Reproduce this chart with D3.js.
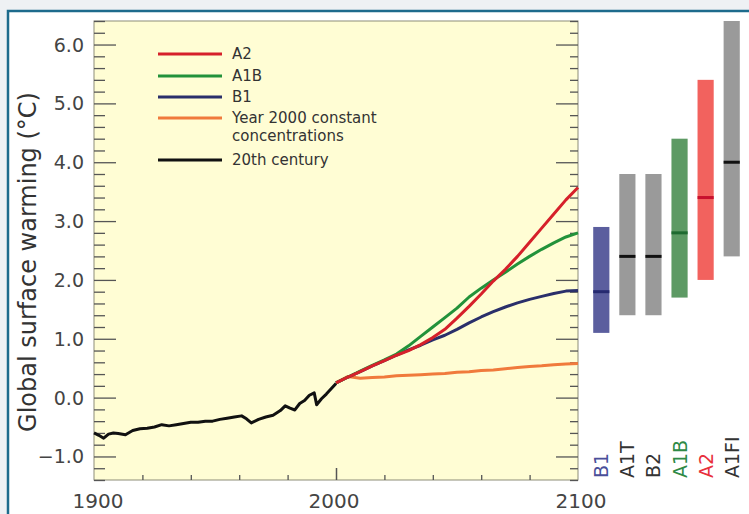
<!DOCTYPE html>
<html>
<head>
<meta charset="utf-8">
<script src="https://cdn.jsdelivr.net/npm/d3@7"></script>
<style>
  body { margin: 0; background: #eef1f4; }
  svg { display: block; }
  text { font-family: "DejaVu Sans", sans-serif; }
</style>
</head>
<body>
<svg id="chart"></svg>
<script>
// chart size
width = 749;
height = 514;

// 20th century observed series
const years20 = [1900, 1902, 1904, 1906, 1908, 1910, 1913, 1916, 1919, 1922, 1925, 1928, 1931, 1934, 1937,
  1940, 1943, 1946, 1949, 1952, 1955, 1958, 1961, 1963, 1965, 1968, 1971, 1974, 1977, 1979,
  1981, 1983, 1985, 1987, 1989, 1991, 1992, 1994, 1996, 1998, 2000];
const century20 = [-0.6, -0.64, -0.69, -0.62, -0.6, -0.61, -0.63, -0.56, -0.53, -0.52, -0.5, -0.46, -0.48, -0.46, -0.44,
  -0.42, -0.42, -0.4, -0.4, -0.37, -0.35, -0.33, -0.31, -0.36, -0.43, -0.37, -0.33, -0.3, -0.22, -0.14,
  -0.18, -0.21, -0.1, -0.05, 0.04, 0.08, -0.12, -0.02, 0.06, 0.15, 0.24];

// scenario projections
const yearsP = [2000, 2005, 2010, 2015, 2020, 2025, 2030, 2035, 2040, 2045, 2050,
  2055, 2060, 2065, 2070, 2075, 2080, 2085, 2090, 2095, 2100];
const a2 = [0.25, 0.35, 0.44, 0.54, 0.63, 0.72, 0.8, 0.9, 1.02, 1.16, 1.35,
  1.55, 1.76, 1.98, 2.18, 2.4, 2.64, 2.88, 3.12, 3.36, 3.57];
const a1b = [0.25, 0.35, 0.45, 0.55, 0.64, 0.74, 0.88, 1.04, 1.2, 1.36, 1.52,
  1.71, 1.86, 2.0, 2.13, 2.27, 2.4, 2.52, 2.63, 2.73, 2.8];
const b1 = [0.25, 0.35, 0.44, 0.54, 0.63, 0.72, 0.81, 0.89, 0.98, 1.06, 1.16,
  1.27, 1.37, 1.46, 1.54, 1.61, 1.67, 1.72, 1.77, 1.81, 1.82];
const constant2000 = [0.25, 0.36, 0.33, 0.34, 0.35, 0.37, 0.38, 0.39, 0.4, 0.41, 0.43,
  0.44, 0.46, 0.47, 0.49, 0.51, 0.53, 0.54, 0.56, 0.57, 0.58];

// likely ranges at 2100
const scenarios = ["B1", "A1T", "B2", "A1B", "A2", "A1FI"];
const best = [1.8, 2.4, 2.4, 2.8, 3.4, 4.0];
const low = [1.1, 1.4, 1.4, 1.7, 2.0, 2.4];
const high = [2.9, 3.8, 3.8, 4.4, 5.4, 6.4];

const yTicks = [-1, 0, 1, 2, 3, 4, 5, 6];
const xLabels = [1900, 2000, 2100];

const barColour = ["#5b5e9e", "#9a9a9a", "#9a9a9a", "#5d9a64", "#f2625e", "#9a9a9a"];
const markColour = ["#262a70", "#111", "#111", "#1e6a30", "#c8102e", "#111"];
const labelColour = ["#4a4f9a", "#333", "#333", "#2e8a46", "#e8303c", "#333"];

const svg = d3.select("#chart")
  .attr("width", width)
  .attr("height", height);

// outer frame
svg.append("rect")
  .attr("x", 8).attr("y", 11)
  .attr("width", width + 10).attr("height", height + 10)
  .attr("fill", "#fff")
  .attr("stroke", "#1d6b8c")
  .attr("stroke-width", 2.5);

const plot = { left: 94, right: 578, top: 21, bottom: 480 };

const x = d3.scaleLinear().domain([1900, 2100]).range([plot.left, plot.right]);
const y = d3.scaleLinear().domain([-1.4, 6.4]).range([plot.bottom, plot.top]);

// plot background
svg.append("rect")
  .attr("x", plot.left).attr("y", plot.top)
  .attr("width", plot.right - plot.left).attr("height", plot.bottom - plot.top)
  .attr("fill", "#fffdd4")
  .attr("stroke", "#8d8d78")
  .attr("stroke-width", 1);

// y axes, left and right, ticks pointing inwards
const minor = d3.range(-1.4, 6.41, 0.2).filter(v => Math.abs(v - Math.round(v)) > 0.01);
const leftMinor = d3.axisRight(y).tickValues(minor).tickSize(11).tickFormat("");
const leftMajor = d3.axisRight(y).tickValues(yTicks).tickSize(22).tickFormat("");
const rightMinor = d3.axisLeft(y).tickValues(minor).tickSize(8).tickFormat("");
const rightMajor = d3.axisLeft(y).tickValues(yTicks).tickSize(22).tickFormat("");

[[leftMinor, plot.left], [leftMajor, plot.left], [rightMinor, plot.right], [rightMajor, plot.right]]
  .forEach(([ax, pos]) => {
    const g = svg.append("g").attr("transform", `translate(${pos},0)`).call(ax);
    g.select(".domain").remove();
    g.selectAll("line").attr("stroke", "#555").attr("stroke-width", 1.3);
  });

// y tick labels
svg.append("g").selectAll("text")
  .data(yTicks)
  .enter()
  .append("text")
  .attr("x", 84)
  .attr("y", d => y(d) + 7)
  .attr("text-anchor", "end")
  .attr("font-size", 19)
  .attr("fill", "#444")
  .text(d => d.toFixed(1).replace("-", "\u2212"));

// x axis ticks (pointing up)
const xt = svg.append("g").attr("transform", `translate(0,${plot.bottom})`)
  .call(d3.axisTop(x).tickValues([1920, 1940, 1960, 1980, 2020, 2040, 2060, 2080]).tickSize(5).tickFormat(""));
xt.select(".domain").remove();
xt.selectAll("line").attr("stroke", "#555").attr("stroke-width", 1.3);
const xt2 = svg.append("g").attr("transform", `translate(0,${plot.bottom})`)
  .call(d3.axisTop(x).tickValues([2000]).tickSize(12).tickFormat(""));
xt2.select(".domain").remove();
xt2.selectAll("line").attr("stroke", "#555").attr("stroke-width", 1.5);

svg.append("g").selectAll("text")
  .data(xLabels)
  .enter()
  .append("text")
  .attr("x", (d, i) => x(d) + [4, -2, 3][i])
  .attr("y", 508)
  .attr("text-anchor", "middle")
  .attr("font-size", 20)
  .attr("fill", "#444")
  .text(d => d);

// y axis title
svg.append("text")
  .attr("transform", "translate(36,262) rotate(-90)")
  .attr("text-anchor", "middle")
  .attr("font-size", 24)
  .attr("fill", "#333")
  .text("Global surface warming (\u00b0C)");

// lines
const line = d3.line()
  .x(d => x(d[0]))
  .y(d => y(d[1]));

const series = [
  { name: "Year 2000 constant", years: yearsP, values: constant2000, colour: "#f07a3c" },
  { name: "B1", years: yearsP, values: b1, colour: "#2a2f6a" },
  { name: "A1B", years: yearsP, values: a1b, colour: "#22923a" },
  { name: "A2", years: yearsP, values: a2, colour: "#d6202a" },
  { name: "20th century", years: years20, values: century20, colour: "#111" }
];

svg.append("g")
  .selectAll("path")
  .data(series)
  .enter()
  .append("path")
  .attr("d", s => line(s.years.map((yr, i) => [yr, s.values[i]])))
  .attr("fill", "none")
  .attr("stroke", s => s.colour)
  .attr("stroke-width", 3)
  .attr("stroke-linejoin", "round");

// legend
const legendItems = [
  { label: ["A2"], colour: "#d6202a", y: 54 },
  { label: ["A1B"], colour: "#22923a", y: 76 },
  { label: ["B1"], colour: "#2a2f6a", y: 97 },
  { label: ["Year 2000 constant", "concentrations"], colour: "#f07a3c", y: 118 },
  { label: ["20th century"], colour: "#111", y: 160 }
];
const legend = svg.append("g");
legendItems.forEach(item => {
  legend.append("line")
    .attr("x1", 158).attr("x2", 222)
    .attr("y1", item.y).attr("y2", item.y)
    .attr("stroke", item.colour)
    .attr("stroke-width", 3);
  item.label.forEach((t, j) => {
    legend.append("text")
      .attr("x", 232)
      .attr("y", item.y + 5 + j * 18)
      .attr("font-size", 15)
      .attr("fill", "#333")
      .text(t);
  });
});

// range bars on the right
const band = d3.scaleBand().domain(scenarios).range([588, 745]).paddingInner(0.38).paddingOuter(0.2);

const bars = svg.append("g");
bars.selectAll("rect.range")
  .data(scenarios)
  .enter()
  .append("rect")
  .attr("class", "range")
  .attr("x", d => band(d))
  .attr("width", band.bandwidth())
  .attr("y", (d, i) => y(high[i]))
  .attr("height", (d, i) => y(low[i]) - y(high[i]))
  .attr("fill", (d, i) => barColour[i]);

bars.selectAll("rect.best")
  .data(scenarios)
  .enter()
  .append("rect")
  .attr("class", "best")
  .attr("x", d => band(d))
  .attr("width", band.bandwidth())
  .attr("y", (d, i) => y(best[i]) - 1.5)
  .attr("height", 3)
  .attr("fill", (d, i) => markColour[i]);

bars.selectAll("text")
  .data(scenarios)
  .enter()
  .append("text")
  .attr("transform", d => `translate(${band(d) + band.bandwidth() / 2 + 7},478) rotate(-90)`)
  .attr("font-size", 19)
  .attr("fill", (d, i) => labelColour[i])
  .text(d => d);
</script>
</body>
</html>
